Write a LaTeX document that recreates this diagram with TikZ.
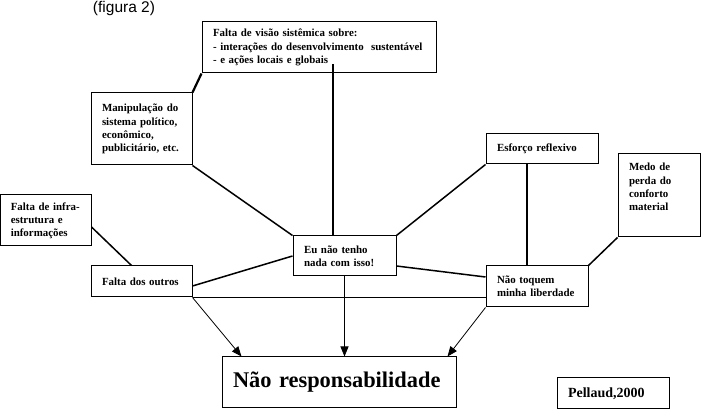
\documentclass[tikz,border=0pt]{standalone}
\usepackage{fontspec}
\setmainfont{Liberation Serif}
\newfontfamily\arialf{Liberation Sans}
\usetikzlibrary{arrows.meta,calc}
\begin{document}
\begin{tikzpicture}[x=1pt,y=-1pt,
  box/.style={draw,line width=1pt,inner xsep=11pt,inner ysep=0pt,align=left,
    font=\bfseries\fontsize{10.9}{13.2}\selectfont},
  conn/.style={line width=1.5pt},
  arr/.style={line width=0.8pt,-{Triangle[length=10pt,width=8pt]}}]
\useasboundingbox (0,0) rectangle (702,419);
\node[font=\arialf\fontsize{15.5}{17}\selectfont] (fig) at (124,8) {(figura 2)};
\node[box,text width=212pt,minimum height=51pt] (visao) at (319,47.5)
  {Falta de visão sistêmica sobre:\\- interações do desenvolvimento\ \ sustentável\\- e ações locais e globais};
\node[box,text width=79pt,minimum height=72pt] (manip) at (141.5,129)
  {Manipulação do\\sistema político,\\econômico,\\publicitário, etc.};
\node[box,text width=74pt,inner xsep=8.25pt,minimum height=51pt] (infra) at (45.75,220.5)
  {\hspace*{2pt}Falta de infra-\\\hspace*{2pt}estrutura e\\\hspace*{2pt}informações};
\node[box,text width=79pt,minimum height=31pt] (outros) at (141.5,281.5)
  {Falta dos outros};
\node[box,text width=81pt,minimum height=40pt] (eu) at (344.5,256)
  {Eu não tenho\\nada com isso!};
\node[box,text width=90pt,minimum height=30pt] (esforco) at (542,149)
  {Esforço reflexivo};
\node[box,text width=60pt,minimum height=83pt] (medo) at (659,195.5)
  {Medo de\\perda do\\conforto\\material\\[4pt]\mbox{}};
\node[box,text width=80pt,minimum height=41pt] (toquem) at (537,286.5)
  {Não toquem\\minha liberdade};
\node[box,text width=212pt,minimum height=51pt,font=\bfseries\fontsize{22.4}{24}\selectfont] (resp) at (339,382.5)
  {Não responsabilidade};
\node[box,text width=90pt,minimum height=31pt,font=\bfseries\fontsize{14}{16}\selectfont] (pell) at (613,393.5)
  {Pellaud,2000};
% connectors
\draw[line width=2.2pt] (manip.north east) -- (visao.south west);
\coordinate (vtop) at (333,64);
\draw[conn] (vtop) -- (vtop |- eu.north);
\draw[conn] (manip.south east) -- (eu.north west);
\draw[conn] ([yshift=-6.5pt]infra.east) -- ([xshift=-10pt]outros.north);
\draw[conn] ([yshift=-4.5pt]outros.east) -- (eu.west);
\draw[conn] (eu.north east) -- (esforco.south west);
\coordinate (es) at ([xshift=-15pt]esforco.south);
\draw[conn] (es) -- (es |- toquem.north);
\draw[conn] ([yshift=-10pt]eu.east) -- ([yshift=9.5pt]toquem.west);
\draw[conn] (medo.south west) -- (toquem.north east);
\draw[conn] (outros.south east) -- (outros.south east -| toquem.west);
% arrows
\draw[arr] (eu.south) -- (eu.south |- resp.north);
\draw[arr] (outros.south east) -- ([xshift=20pt]resp.north west);
\draw[arr] (toquem.south west) -- ([xshift=-9pt]resp.north east);
\end{tikzpicture}
\end{document}
